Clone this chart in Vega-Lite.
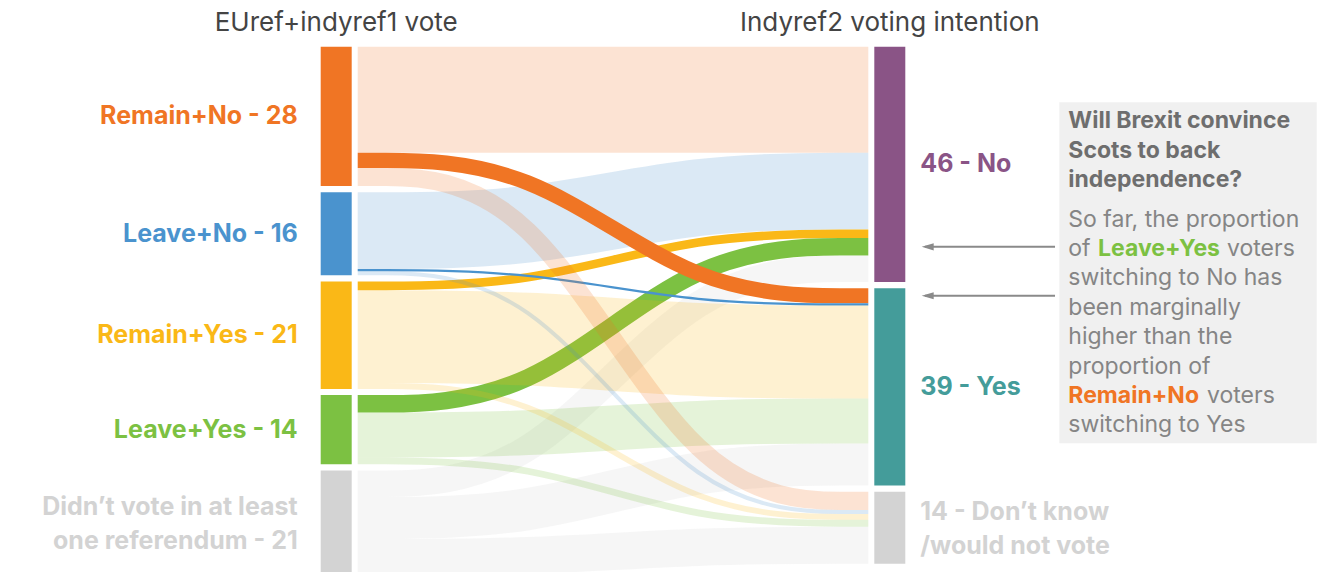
{
  "$schema": "https://vega.github.io/schema/vega-lite/v6.json",
  "width": 1337,
  "height": 572,
  "autosize": {"type": "none"},
  "padding": 0,
  "background": "white",
  "config": {"view": {"stroke": null}, "text": {"font": "Inter"}},
  "datasets": {
    "nodes": [
      {"node": "Remain+No", "ord": 0, "label": "Remain+No - 28"},
      {"node": "Leave+No", "ord": 1, "label": "Leave+No - 16"},
      {"node": "Remain+Yes", "ord": 2, "label": "Remain+Yes - 21"},
      {"node": "Leave+Yes", "ord": 3, "label": "Leave+Yes - 14"},
      {"node": "Didn’t vote in at least one referendum", "ord": 4, "label": "Didn’t vote in at least\none referendum - 21"},
      {"node": "No", "ord": 0, "label": "46 - No"},
      {"node": "Yes", "ord": 1, "label": "39 - Yes"},
      {"node": "Don’t know/would not vote", "ord": 2, "label": "14 - Don’t know\n/would not vote"}
    ],
    "flows": [
      {"src": "Remain+No", "tgt": "No", "v": 21.0},
      {"src": "Leave+No", "tgt": "No", "v": 15.2},
      {"src": "Remain+Yes", "tgt": "No", "v": 1.7},
      {"src": "Leave+Yes", "tgt": "No", "v": 3.45},
      {"src": "Didn’t vote in at least one referendum", "tgt": "No", "v": 5.24},
      {"src": "Remain+No", "tgt": "Yes", "v": 3.0},
      {"src": "Leave+No", "tgt": "Yes", "v": 0.45},
      {"src": "Remain+Yes", "tgt": "Yes", "v": 18.4},
      {"src": "Leave+Yes", "tgt": "Yes", "v": 8.9},
      {"src": "Didn’t vote in at least one referendum", "tgt": "Yes", "v": 8.34},
      {"src": "Remain+No", "tgt": "Don’t know/would not vote", "v": 3.6},
      {"src": "Leave+No", "tgt": "Don’t know/would not vote", "v": 0.8},
      {"src": "Remain+Yes", "tgt": "Don’t know/would not vote", "v": 1.15},
      {"src": "Leave+Yes", "tgt": "Don’t know/would not vote", "v": 1.35},
      {"src": "Didn’t vote in at least one referendum", "tgt": "Don’t know/would not vote", "v": 7.36}
    ],
    "notes": [
      {"id": "h0", "text": "EUref+indyref1 vote"},
      {"id": "h1", "text": "Indyref2 voting intention"},
      {"id": "title", "text": "Will Brexit convince\nScots to back\nindependence?"},
      {"id": "body", "text": "So far, the proportion\nof\nswitching to No has\nbeen marginally\nhigher than the\nproportion of"},
      {"id": "ly", "text": "Leave+Yes"},
      {"id": "v1", "text": "voters"},
      {"id": "rn", "text": "Remain+No"},
      {"id": "v2", "text": "voters"},
      {"id": "tail", "text": "switching to Yes"}
    ]
  },
  "layer": [
    {
      "data": {"name": "flows"},
      "transform": [
        {"lookup": "src", "from": {"data": {"name": "nodes"}, "key": "node", "fields": ["ord"]}, "as": ["si"]},
        {"lookup": "tgt", "from": {"data": {"name": "nodes"}, "key": "node", "fields": ["ord"]}, "as": ["ti"]},
        {"window": [{"op": "sum", "field": "v", "as": "cl"}], "sort": [{"field": "si"}, {"field": "ti"}], "frame": [null, 0]},
        {"window": [{"op": "sum", "field": "v", "as": "cr"}], "sort": [{"field": "ti"}, {"field": "si"}], "frame": [null, 0]},
        {"calculate": "datum.cl - datum.v/2 + 1.23*datum.si", "as": "yl"},
        {"calculate": "datum.cr - datum.v/2 + 1.23*datum.ti", "as": "yr"}
      ],
      "layer": [
        {
          "transform": [
            {"calculate": "datum.yl", "as": "p0"},
            {"calculate": "datum.yl", "as": "p1"},
            {"calculate": "datum.yr", "as": "p2"},
            {"calculate": "datum.yr", "as": "p3"},
            {"fold": ["p0", "p1", "p2", "p3"], "as": ["pt", "y"]},
            {"calculate": "indexof(['p0','p1','p2','p3'], datum.pt)/3", "as": "x"}
          ],
          "mark": {"type": "line", "interpolate": "basis", "strokeCap": "butt"},
          "encoding": {
            "x": {"field": "x", "type": "quantitative", "scale": {"domain": [-0.70055, 1.91794], "nice": false, "zero": false}, "axis": null},
            "y": {"field": "y", "type": "quantitative", "scale": {"domain": [-9.2475, 104.0198], "nice": false, "zero": false, "reverse": true}, "axis": null},
            "detail": {"field": "tgt"},
            "color": {"field": "src", "type": "nominal", "legend": null,
              "scale": {"domain": ["Remain+No", "Leave+No", "Remain+Yes", "Leave+Yes", "Didn’t vote in at least one referendum", "No", "Yes", "Don’t know/would not vote"],
                        "range": ["#f07524", "#4a93ce", "#fab817", "#7cc142", "#d3d3d3", "#8a5486", "#449c9a", "#d3d3d3"]}},
            "size": {"field": "v", "type": "quantitative", "legend": null, "scale": {"type": "linear", "domain": [0, 10], "range": [0, 50.5], "zero": true, "nice": false}},
            "opacity": {"condition": {"test": "(datum.tgt=='Yes' && (datum.src=='Remain+No' || datum.src=='Leave+No')) || (datum.tgt=='No' && (datum.src=='Remain+Yes' || datum.src=='Leave+Yes'))", "value": 1}, "value": 0.2}
          }
        },
        {
          "transform": [{"filter": "(datum.src=='Leave+Yes' && datum.tgt=='No') || (datum.src=='Remain+No' && datum.tgt=='Yes')"}],
          "mark": {"type": "rule", "color": "#8a8a8a", "strokeWidth": 2},
          "encoding": {
            "x": {"datum": 1.111, "type": "quantitative"},
            "x2": {"datum": 1.3657},
            "y": {"field": "yr", "type": "quantitative"}
          }
        },
        {
          "transform": [{"filter": "(datum.src=='Leave+Yes' && datum.tgt=='No') || (datum.src=='Remain+No' && datum.tgt=='Yes')"}],
          "mark": {"type": "point", "shape": "M-1,0L1,-0.6L1,0.6Z", "size": 144, "filled": true, "opacity": 1, "color": "#8a8a8a", "xOffset": 6},
          "encoding": {
            "x": {"datum": 1.1046, "type": "quantitative"},
            "y": {"field": "yr", "type": "quantitative"}
          }
        }
      ]
    },
    {
      "data": {"name": "flows"},
      "transform": [
        {"fold": ["src", "tgt"], "as": ["side", "node"]},
        {"aggregate": [{"op": "sum", "field": "v", "as": "tot"}], "groupby": ["side", "node"]},
        {"lookup": "node", "from": {"data": {"name": "nodes"}, "key": "node", "fields": ["ord", "label"]}},
        {"window": [{"op": "sum", "field": "tot", "as": "cum"}], "groupby": ["side"], "sort": [{"field": "ord"}], "frame": [null, 0]},
        {"calculate": "datum.cum + 1.23*datum.ord", "as": "y1"},
        {"calculate": "datum.y1 - datum.tot", "as": "y0"},
        {"calculate": "datum.y1 - datum.tot/2", "as": "yc"}
      ],
      "layer": [
        {
          "transform": [{"filter": "datum.side=='src'"}],
          "mark": {"type": "rect", "xOffset": -37, "x2Offset": -6},
          "encoding": {
            "x": {"datum": 0, "type": "quantitative"},
            "x2": {"datum": 0},
            "y": {"field": "y0", "type": "quantitative"},
            "y2": {"field": "y1"},
            "color": {"field": "node", "type": "nominal", "legend": null}
          }
        },
        {
          "transform": [{"filter": "datum.side=='tgt'"}],
          "mark": {"type": "rect", "xOffset": 6, "x2Offset": 37},
          "encoding": {
            "x": {"datum": 1, "type": "quantitative"},
            "x2": {"datum": 1},
            "y": {"field": "y0", "type": "quantitative"},
            "y2": {"field": "y1"},
            "color": {"field": "node", "type": "nominal", "legend": null}
          }
        },
        {
          "transform": [{"filter": "datum.side=='src' && indexof(datum.label, '\\n') < 0"}],
          "mark": {"type": "text", "align": "right", "baseline": "middle", "dx": -60, "fontSize": 25, "fontWeight": "bold"},
          "encoding": {
            "x": {"datum": 0, "type": "quantitative"},
            "y": {"field": "yc", "type": "quantitative"},
            "text": {"field": "label"},
            "color": {"field": "node", "type": "nominal", "legend": null}
          }
        },
        {
          "transform": [{"filter": "datum.side=='src' && indexof(datum.label, '\\n') >= 0"}],
          "mark": {"type": "text", "align": "right", "baseline": "middle", "dx": -60, "dy": -16, "fontSize": 25, "fontWeight": "bold", "lineBreak": "\n", "lineHeight": 34},
          "encoding": {
            "x": {"datum": 0, "type": "quantitative"},
            "y": {"field": "yc", "type": "quantitative"},
            "text": {"field": "label"},
            "color": {"field": "node", "type": "nominal", "legend": null}
          }
        },
        {
          "transform": [{"filter": "datum.side=='tgt' && indexof(datum.label, '\\n') < 0"}],
          "mark": {"type": "text", "align": "left", "baseline": "middle", "dx": 52, "fontSize": 25, "fontWeight": "bold"},
          "encoding": {
            "x": {"datum": 1, "type": "quantitative"},
            "y": {"field": "yc", "type": "quantitative"},
            "text": {"field": "label"},
            "color": {"field": "node", "type": "nominal", "legend": null}
          }
        },
        {
          "transform": [{"filter": "datum.side=='tgt' && indexof(datum.label, '\\n') >= 0"}],
          "mark": {"type": "text", "align": "left", "baseline": "middle", "dx": 52, "dy": -16, "fontSize": 25, "fontWeight": "bold", "lineBreak": "\n", "lineHeight": 34},
          "encoding": {
            "x": {"datum": 1, "type": "quantitative"},
            "y": {"field": "yc", "type": "quantitative"},
            "text": {"field": "label"},
            "color": {"field": "node", "type": "nominal", "legend": null}
          }
        }
      ]
    },
    {
      "data": {"name": "notes"},
      "layer": [
        {
          "transform": [{"filter": "datum.id=='h0'"}],
          "mark": {"type": "text", "align": "center", "baseline": "alphabetic", "dx": -21.5, "dy": -16, "fontSize": 26, "color": "#444444"},
          "encoding": {"x": {"datum": 0, "type": "quantitative"}, "y": {"datum": 0, "type": "quantitative"}, "text": {"field": "text"}}
        },
        {
          "transform": [{"filter": "datum.id=='h1'"}],
          "mark": {"type": "text", "align": "center", "baseline": "alphabetic", "dx": 21.5, "dy": -16, "fontSize": 26, "color": "#444444"},
          "encoding": {"x": {"datum": 1, "type": "quantitative"}, "y": {"datum": 0, "type": "quantitative"}, "text": {"field": "text"}}
        },
        {
          "transform": [{"filter": "datum.id=='title'"}],
          "mark": {"type": "rect", "color": "#f0f0f0"},
          "encoding": {"x": {"datum": 1.3741, "type": "quantitative"}, "x2": {"datum": 1.8782}, "y": {"datum": 11.01, "type": "quantitative"}, "y2": {"datum": 78.53}}
        },
        {
          "transform": [{"filter": "datum.id=='title'"}],
          "mark": {"type": "text", "align": "left", "baseline": "alphabetic", "dx": 9, "fontSize": 23, "fontWeight": "bold", "color": "#6e6e6e", "lineBreak": "\n", "lineHeight": 29.3},
          "encoding": {"x": {"datum": 1.3741, "type": "quantitative"}, "y": {"datum": 16.16, "type": "quantitative"}, "text": {"field": "text"}}
        },
        {
          "transform": [{"filter": "datum.id=='body'"}],
          "mark": {"type": "text", "align": "left", "baseline": "alphabetic", "dx": 9, "fontSize": 23, "color": "#858585", "lineBreak": "\n", "lineHeight": 29.4},
          "encoding": {"x": {"datum": 1.3741, "type": "quantitative"}, "y": {"datum": 35.64, "type": "quantitative"}, "text": {"field": "text"}}
        },
        {
          "transform": [{"filter": "datum.id=='ly'"}],
          "mark": {"type": "text", "align": "left", "baseline": "alphabetic", "dx": 38.7, "dy": 29.4, "fontSize": 23, "fontWeight": "bold", "color": "#7cc142"},
          "encoding": {"x": {"datum": 1.3741, "type": "quantitative"}, "y": {"datum": 35.64, "type": "quantitative"}, "text": {"field": "text"}}
        },
        {
          "transform": [{"filter": "datum.id=='v1'"}],
          "mark": {"type": "text", "align": "left", "baseline": "alphabetic", "dx": 167.7, "dy": 29.4, "fontSize": 23, "color": "#858585"},
          "encoding": {"x": {"datum": 1.3741, "type": "quantitative"}, "y": {"datum": 35.64, "type": "quantitative"}, "text": {"field": "text"}}
        },
        {
          "transform": [{"filter": "datum.id=='rn'"}],
          "mark": {"type": "text", "align": "left", "baseline": "alphabetic", "dx": 9, "dy": 176.4, "fontSize": 23, "fontWeight": "bold", "color": "#f07524"},
          "encoding": {"x": {"datum": 1.3741, "type": "quantitative"}, "y": {"datum": 35.64, "type": "quantitative"}, "text": {"field": "text"}}
        },
        {
          "transform": [{"filter": "datum.id=='v2'"}],
          "mark": {"type": "text", "align": "left", "baseline": "alphabetic", "dx": 147.7, "dy": 176.4, "fontSize": 23, "color": "#858585"},
          "encoding": {"x": {"datum": 1.3741, "type": "quantitative"}, "y": {"datum": 35.64, "type": "quantitative"}, "text": {"field": "text"}}
        },
        {
          "transform": [{"filter": "datum.id=='tail'"}],
          "mark": {"type": "text", "align": "left", "baseline": "alphabetic", "dx": 9, "dy": 205.8, "fontSize": 23, "color": "#858585"},
          "encoding": {"x": {"datum": 1.3741, "type": "quantitative"}, "y": {"datum": 35.64, "type": "quantitative"}, "text": {"field": "text"}}
        }
      ]
    }
  ]
}
